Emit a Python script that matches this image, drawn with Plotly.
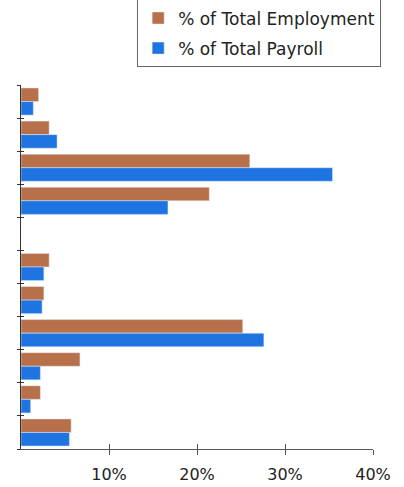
import plotly.graph_objects as go

categories = ["A", "B", "C", "D", "", "F", "G", "H", "I", "J", "K"]
employment = [2.0, 3.2, 26.0, 21.4, None, 3.2, 2.6, 25.2, 6.7, 2.2, 5.7]
payroll = [1.4, 4.1, 35.4, 16.7, None, 2.6, 2.4, 27.6, 2.2, 1.1, 5.5]
tick_values = [10, 20, 30, 40]
tick_labels = ["10%", "20%", "30%", "40%"]

ORANGE = "#B8704A"
BLUE = "#1E74E0"
FONT = "DejaVu Sans"

pos = list(range(len(categories)))
fig = go.Figure()
fig.add_trace(go.Bar(y=pos, x=employment, orientation="h",
                     name="% of Total Employment", marker_color=ORANGE,
                     legendgroup="a"))
fig.add_trace(go.Bar(y=pos, x=payroll, orientation="h",
                     name="% of Total Payroll", marker_color=BLUE,
                     legendgroup="b"))
# empty helper trace so the overlaid tick-only axes get drawn
fig.add_trace(go.Scatter(x=[None], y=[None], xaxis="x2", yaxis="y2",
                         mode="markers", showlegend=False, hoverinfo="skip"))

yr = [len(categories) - 0.5, -0.5]
ytv = [i - 0.5 for i in range(len(categories) + 1)]

fig.update_layout(
    width=404, height=487,
    margin=dict(l=21, r=31, t=85, b=38, autoexpand=False),
    paper_bgcolor="white", plot_bgcolor="white",
    barmode="group", bargap=0.18, bargroupgap=0.0,
    font=dict(family=FONT, size=16, color="#222"),
    showlegend=True,
    legend=dict(x=0.33, y=1.235, xanchor="left", yanchor="top",
                bordercolor="#666", borderwidth=1, bgcolor="white",
                font=dict(size=17, family=FONT), traceorder="grouped",
                tracegroupgap=5, itemwidth=30),
    xaxis=dict(range=[0, 40], tickvals=tick_values, ticktext=tick_labels,
               showgrid=False, zeroline=False, showline=True, linecolor="#555",
               ticks="outside", ticklen=5, tickcolor="#555", automargin=False,
               tickfont=dict(size=16, color="#222", family=FONT),
               ticklabelstandoff=6),
    xaxis2=dict(range=[0, 40], tickvals=tick_values, overlaying="x",
                anchor="y2", side="bottom", showticklabels=False,
                showgrid=False, zeroline=False, showline=False,
                ticks="inside", ticklen=5, tickcolor="#555", automargin=False),
    yaxis=dict(range=yr, tickvals=ytv, showticklabels=False, showgrid=False,
               zeroline=False, showline=True, linecolor="#333",
               ticks="outside", ticklen=3, tickcolor="#333", automargin=False),
    yaxis2=dict(range=yr, tickvals=ytv, overlaying="y", anchor="x2",
                side="left", showticklabels=False, showgrid=False,
                zeroline=False, showline=False, ticks="inside", ticklen=3,
                tickcolor="#333", automargin=False),
)

fig.write_html("out.html")
